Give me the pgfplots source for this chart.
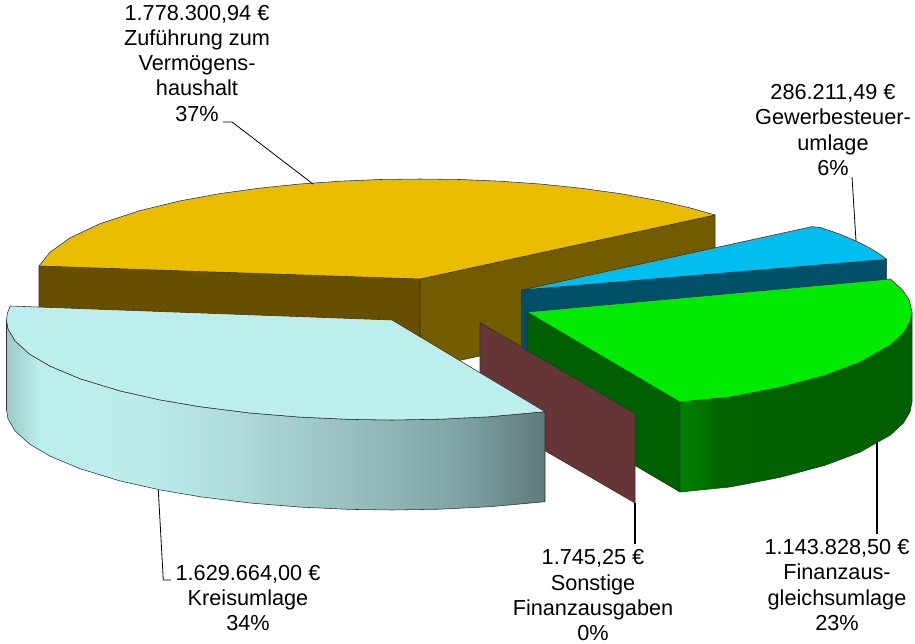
\documentclass[border=0pt]{standalone}
\usepackage{fontspec}
\setmainfont{Liberation Sans}
\usepackage{pgfplots}
\pgfplotsset{compat=1.18}
\definecolor{ytop}{HTML}{EBBD00}
\definecolor{yleft}{HTML}{665000}
\definecolor{yright}{HTML}{735C00}
\definecolor{ctop}{HTML}{00BEF0}
\definecolor{cside}{HTML}{005068}
\definecolor{gtop}{HTML}{00EB00}
\definecolor{gside}{HTML}{005F00}
\definecolor{mar}{HTML}{663535}
\definecolor{ltop}{HTML}{BCEEEE}
\definecolor{edge}{HTML}{303030}
\definecolor{la}{HTML}{9CC8C8}
\definecolor{lb}{HTML}{BCEEEE}
\definecolor{lc}{HTML}{BCEAEA}
\definecolor{ld}{HTML}{AEDADA}
\definecolor{le}{HTML}{98BFBF}
\definecolor{lf}{HTML}{7FA3A3}
\definecolor{lg}{HTML}{5F7A7A}
\definecolor{ga}{HTML}{008000}
\definecolor{gb}{HTML}{007A00}
\definecolor{gc}{HTML}{006200}
\definecolor{gd}{HTML}{005F00}
\pgfdeclarehorizontalshading{lshade}{100bp}{
 color(0bp)=(la);
 color(25bp)=(la);
 color(28.1bp)=(lb);
 color(38.3bp)=(lc);
 color(46.7bp)=(ld);
 color(56.9bp)=(le);
 color(67.1bp)=(lf);
 color(75bp)=(lg);
 color(100bp)=(lg)}
\pgfdeclarehorizontalshading{gshade}{100bp}{
 color(0bp)=(ga);
 color(25bp)=(ga);
 color(28bp)=(gb);
 color(34bp)=(gc);
 color(75bp)=(gd);
 color(100bp)=(gd)}
\tikzset{lab/.style={anchor=north,align=center,inner sep=0pt,outer sep=0pt,text=black,font=\fontsize{21.7}{25.2}\selectfont}}
\begin{document}
\begin{tikzpicture}
\path[use as bounding box] (0,0) rectangle (915pt,644pt);
\begin{axis}[at={(0,0)},anchor=south west,scale only axis,width=915pt,height=644pt,
  xmin=0,xmax=915,ymin=0,ymax=644,y dir=reverse,hide axis,clip=false,no markers,
  every axis plot/.append style={line width=0.55pt,line join=round,draw=edge,solid}]
% Zufuehrung: sides and top
\addplot[fill=yleft] coordinates {(39,266)(420,279)(420,369)(39,356)(39,266)};
\addplot[fill=yright] coordinates {(420,279)(715,215)(715,305)(420,369)(420,279)};
\addplot[fill=ytop] coordinates {(420,279)(39,266)(50,252.2)(70,237.9)(100,223.7)(140,210.6)(180,200.9)(220,193.6)(260,188.1)(300,184)(340,181.2)(380,179.5)(420,179)(460,179.5)(500,181.2)(540,184)(580,188.1)(620,193.6)(660,200.9)(690,207.9)(715,215)(420,279)};
% Gewerbesteuerumlage
\addplot[fill=cside] coordinates {(521.7,290)(886.7,259.3)(886.7,349)(521.7,380)(521.7,290)};
\addplot[fill=ctop] coordinates {(521.7,290)(886.7,259.3)(880,254.3)(870,248.1)(856.7,241.3)(840,234.2)(820,227.3)(811.7,226.7)(521.7,290)};
% Finanzausgleichsumlage
\addplot[fill=gside] coordinates {(527,312)(680,402)(680,492)(527,402)(527,312)};
\addplot[shade,shading=gshade] coordinates {(680,402)(730,397)(780,387.4)(825,375.3)(860,362.2)(890.4,345)(903.4,333)(910,322)(912,312)(912,402)(910,412)(903.4,423)(890.4,435)(860,452.2)(825,465.3)(780,477.4)(730,487)(680,492)(680,402)};
\addplot[fill=gtop] coordinates {(527,312)(890.4,279)(902.6,290)(909.2,300)(912,312)(910,322)(903.4,333)(890.4,345)(860,362.2)(825,375.3)(780,387.4)(730,397)(680,402)(527,312)};
% Sonstige Finanzausgaben
\addplot[fill=mar] coordinates {(480,322.7)(635,413.5)(635,503)(480,413)(480,322.7)};
% Kreisumlage
\addplot[shade,shading=lshade] coordinates {(6.5,320)(8,328.8)(15,340.9)(30,354.4)(50,366.1)(80,378.7)(120,390.9)(160,399.9)(200,406.7)(250,413)(300,417.1)(350,419.4)(392,420)(440,419.2)(490,416.7)(545,411.7)(545,501.7)(490,506.7)(440,509.2)(392,510)(350,509.4)(300,507.1)(250,503)(200,496.7)(160,489.9)(120,480.9)(80,468.7)(50,456.1)(30,444.4)(15,430.9)(8,418.8)(6.5,410)(6.5,320)};
\addplot[fill=ltop] coordinates {(392,320)(10.3,306)(7.4,313)(6.5,320)(8,328.8)(15,340.9)(30,354.4)(50,366.1)(80,378.7)(120,390.9)(160,399.9)(200,406.7)(250,413)(300,417.1)(350,419.4)(392,420)(440,419.2)(490,416.7)(545,411.7)(392,320)};
% leader lines
\addplot[draw=black,line width=0.8pt] coordinates {(223,122)(232,122)(313,184)};
\addplot[draw=black,line width=0.8pt] coordinates {(852,177)(856,241)};
\addplot[draw=black,line width=0.8pt] coordinates {(158.3,490)(163.3,580)(171,580)};
\addplot[draw=black,line width=1.2pt] coordinates {(635,503)(635,544)};
\addplot[draw=black,line width=1.2pt] coordinates {(877,441.7)(877,534)};
% labels
\node[lab] at (axis cs:197,5.2) {1.778.300,94 €\\Zuführung zum\\Vermögens-\\haushalt\\37\%};
\node[lab] at (axis cs:833,84.5) {286.211,49 €\\Gewerbesteuer-\\umlage\\6\%};
\node[lab] at (axis cs:248,565.2) {1.629.664,00 €\\Kreisumlage\\34\%};
\node[lab] at (axis cs:593,549.8) {1.745,25 €\\Sonstige\\Finanzausgaben\\0\%};
\node[lab] at (axis cs:837,539.5) {1.143.828,50 €\\Finanzaus-\\gleichsumlage\\23\%};
\end{axis}
\end{tikzpicture}
\end{document}
